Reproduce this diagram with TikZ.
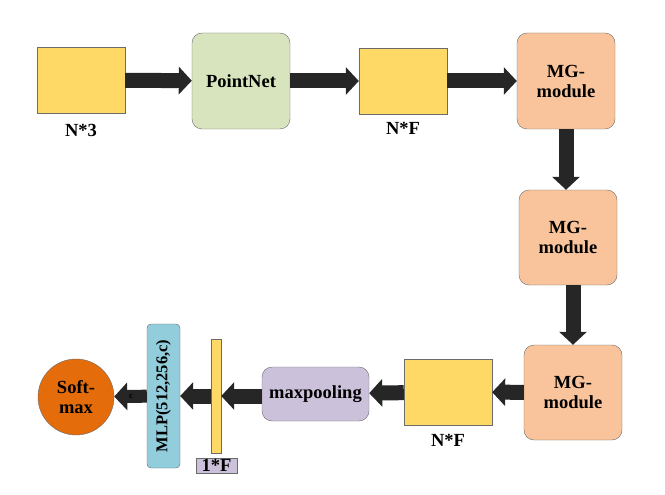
\documentclass[tikz,border=0pt]{standalone}
\usepackage{fontspec}
\setmainfont{Liberation Serif}
\usetikzlibrary{arrows.meta}
\definecolor{featyellow}{HTML}{FFD966}
\definecolor{pnetgreen}{HTML}{D7E4BD}
\definecolor{mgorange}{HTML}{F9C49B}
\definecolor{poolpurple}{HTML}{CCC1DA}
\definecolor{mlpblue}{HTML}{92CDDC}
\definecolor{smorange}{HTML}{E46C0A}
\definecolor{arrowdark}{HTML}{262626}
\definecolor{edgegray}{HTML}{6B6B6B}
\begin{document}
\begin{tikzpicture}[x=1pt,y=-1pt]
  \tikzstyle{every node}=[font=\bfseries\fontsize{18.5}{20}\selectfont,inner sep=0pt]
  \tikzstyle{feat}=[draw=edgegray,fill=featyellow,minimum width=88pt,minimum height=66pt]
  \tikzstyle{block}=[draw=edgegray,rounded corners=10pt,align=center,
                     minimum width=98pt,minimum height=96pt]
  \tikzstyle{blockarrow}=[draw=arrowdark,line width=15pt,
                          -{Triangle[length=13pt,width=27pt]}]
  \useasboundingbox (0,0) rectangle (665,495);
  % top row
  \node[feat] (n3) at (81,80) {};
  \node at (81,130) {N*3};
  \node[block,fill=pnetgreen] (pointnet) at (241,81) {PointNet};
  \node[feat] (nf1) at (403,81) {};
  \node at (403,128) {N*F};
  \node[block,fill=mgorange] (mg1) at (566,81) {MG-\\module};
  % right column
  \node[block,fill=mgorange,minimum height=95pt] (mg2) at (568,237.5) {MG-\\module};
  \node[block,fill=mgorange,minimum height=95pt] (mg3) at (573,392.5) {MG-\\module};
  % bottom row
  \node[feat] (nf2) at (448,392) {};
  \node at (448,440) {N*F};
  \node[draw=edgegray,fill=poolpurple,rounded corners=10pt,
        minimum width=107pt,minimum height=54pt] (maxpool) at (315.5,394) {maxpooling};
  \node[draw=edgegray,fill=featyellow,minimum width=10pt,minimum height=114pt] (bar) at (216,396) {};
  \node[draw=edgegray,fill=poolpurple,minimum width=41pt,minimum height=15pt] (barlabel) at (216.5,465.5) {1*F};
  \node[draw=edgegray,fill=mlpblue,rounded corners=4pt,minimum width=33pt,minimum height=144pt] (mlp) at (163.5,396) {};
  \node[rotate=90,font=\bfseries\fontsize{16.5}{18}\selectfont] at (mlp.center) {MLP(512,256,c)};
  \node[circle,draw=edgegray,fill=smorange,minimum size=76pt,align=center] (softmax) at (76,397) {Soft-\\max};
  % connectors
  \draw[blockarrow] (n3) -- (pointnet);
  \draw[blockarrow] (pointnet) -- (nf1);
  \draw[blockarrow] (nf1) -- (mg1);
  \draw[blockarrow] (mg1) -- (mg1.south |- mg2.north);
  \draw[blockarrow] (mg3.north |- mg2.south) -- (mg3);
  \draw[blockarrow] (mg3) -- (nf2);
  \draw[blockarrow] (nf2) -- (maxpool);
  \draw[blockarrow] (maxpool.west |- bar) -- (bar);
  \draw[blockarrow] (bar) -- (mlp);
  \draw[blockarrow,line width=13pt] (mlp) -- (softmax);
  \node[font=\bfseries\fontsize{9}{10}\selectfont] (clabel) at (131,396) {c};
\end{tikzpicture}
\end{document}
